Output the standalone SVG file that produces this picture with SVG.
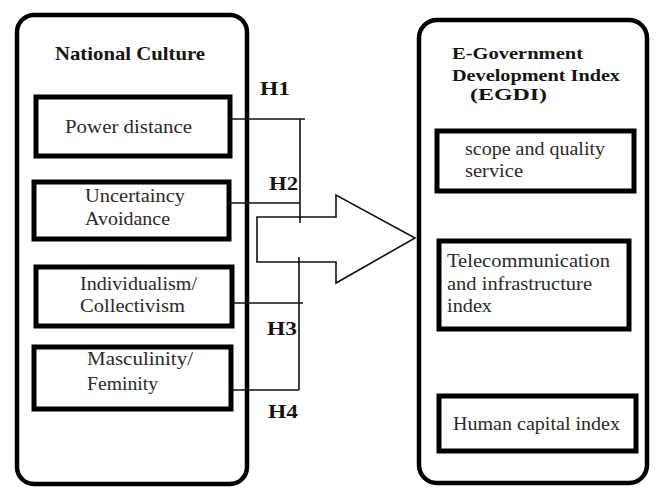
<svg xmlns="http://www.w3.org/2000/svg" width="658" height="489" viewBox="0 0 658 489">
<style>
.outer{fill:#fff;stroke:#000;stroke-width:4.5}
.inner{fill:#fff;stroke:#000;stroke-width:5}
text{font-family:"Liberation Serif","DejaVu Serif","Noto Serif",serif}
.t{font-size:19px;fill:#2a2a2a}
.b{font-size:19px;font-weight:bold;fill:#151515}
.h{font-size:16.5px;font-weight:bold;fill:#151515}
.ln{fill:none;stroke:#111;stroke-width:1.6}
</style>
<rect width="658" height="489" fill="#fff"/>
<g id="national-culture">
<rect class="outer" x="17" y="15" width="230" height="469" rx="17"/>
<text class="b" x="55" y="60" textLength="150" lengthAdjust="spacingAndGlyphs">National Culture</text>
</g>
<g id="power-distance">
<rect class="inner" x="36" y="97" width="194" height="59"/>
<text class="t" x="65" y="133" textLength="127" lengthAdjust="spacingAndGlyphs">Power distance</text>
</g>
<g id="uncertainty-avoidance">
<rect class="inner" x="34" y="182" width="195" height="57"/>
<text class="t" x="85" y="202" textLength="100" lengthAdjust="spacingAndGlyphs">Uncertaincy</text>
<text class="t" x="85" y="225" textLength="85" lengthAdjust="spacingAndGlyphs">Avoidance</text>
</g>
<g id="individualism">
<rect class="inner" x="36" y="267" width="196" height="59"/>
<text class="t" x="80" y="290" textLength="117" lengthAdjust="spacingAndGlyphs">Individualism/</text>
<text class="t" x="80" y="312" textLength="105" lengthAdjust="spacingAndGlyphs">Collectivism</text>
</g>
<g id="masculinity">
<rect class="inner" x="34" y="347" width="197" height="62"/>
<text class="t" x="87" y="365" textLength="106" lengthAdjust="spacingAndGlyphs">Masculinity/</text>
<text class="t" x="87" y="390" textLength="71" lengthAdjust="spacingAndGlyphs">Feminity</text>
</g>
<g id="egdi">
<rect class="outer" x="419" y="20" width="228" height="463" rx="18"/>
<text class="h" x="452" y="59" textLength="131" lengthAdjust="spacingAndGlyphs">E-Government</text>
<text class="h" x="452" y="81" textLength="168" lengthAdjust="spacingAndGlyphs">Development Index</text>
<text class="h" x="470" y="100" textLength="77" lengthAdjust="spacingAndGlyphs">(EGDI)</text>
</g>
<g id="scope-quality">
<rect class="inner" x="437" y="131" width="197" height="60"/>
<text class="t" x="465" y="155" textLength="140" lengthAdjust="spacingAndGlyphs">scope and quality</text>
<text class="t" x="465" y="177" textLength="58" lengthAdjust="spacingAndGlyphs">service</text>
</g>
<g id="telecom">
<rect class="inner" x="439" y="241" width="190" height="88"/>
<text class="t" x="447" y="267" textLength="163" lengthAdjust="spacingAndGlyphs">Telecommunication</text>
<text class="t" x="447" y="290" textLength="145" lengthAdjust="spacingAndGlyphs">and infrastructure</text>
<text class="t" x="447" y="312" textLength="45" lengthAdjust="spacingAndGlyphs">index</text>
</g>
<g id="human-capital">
<rect class="inner" x="439" y="396" width="197" height="55"/>
<text class="t" x="453" y="430" textLength="167" lengthAdjust="spacingAndGlyphs">Human capital index</text>
</g>
<g id="connectors">
<polyline class="ln" points="228,119 305,119"/>
<polyline class="ln" points="300,119 300,223"/>
<polyline class="ln" points="229,203 300,203"/>
<polyline class="ln" points="299,257 299,390"/>
<polyline class="ln" points="232,303 303,303"/>
<polyline class="ln" points="231,390 299,390"/>
<polygon class="ln" points="257,217 336,217 336,195 415,238 336,283 336,262 257,262"/>
</g>
<g id="labels">
<text class="b" x="260" y="95" textLength="30" lengthAdjust="spacingAndGlyphs">H1</text>
<text class="b" x="269" y="190" textLength="29" lengthAdjust="spacingAndGlyphs">H2</text>
<text class="b" x="267" y="335" textLength="30" lengthAdjust="spacingAndGlyphs">H3</text>
<text class="b" x="268" y="418" textLength="30" lengthAdjust="spacingAndGlyphs">H4</text>
</g>
</svg>
